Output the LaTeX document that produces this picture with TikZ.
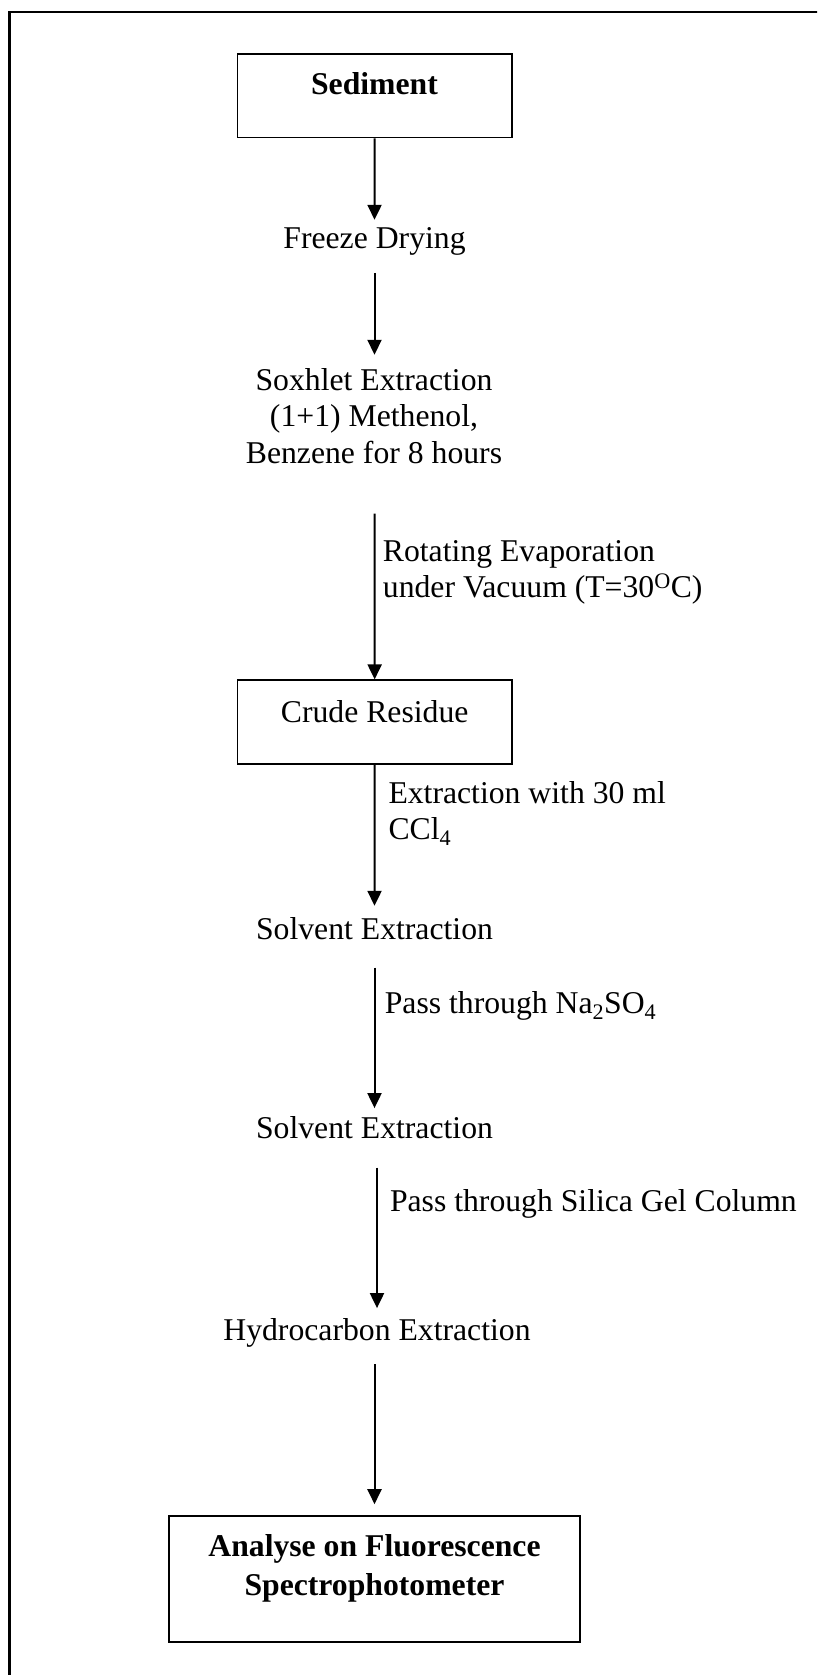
\documentclass[tikz,border=0pt]{standalone}
\usepackage{fontspec}
\setmainfont{Liberation Serif}
\usetikzlibrary{arrows.meta}
\newcommand\bigfont{\fontsize{31.7pt}{36.6pt}\selectfont}
\tikzset{
  frameline/.style={line width=2.5pt},
  boxst/.style={draw, line width=1.2pt, inner sep=0pt},
  finalbox/.style={draw, line width=1.6pt, inner sep=0pt},
  txt/.style={inner sep=0pt, text height=22pt, text depth=7pt, anchor=base, font=\bigfont},
  mtxt/.style={inner sep=0pt, anchor=base, font=\bigfont},
  lbl/.style={inner sep=0pt, anchor=base west, font=\bigfont},
  arr/.style={line width=2pt, -{Triangle[length=15pt,width=14pt]}}
}
\begin{document}
\begin{tikzpicture}[x=1pt,y=1pt]
\useasboundingbox (0,0) rectangle (817,-1675);
\clip (0,0) rectangle (817,-1675);
\draw[frameline] (9.7,-12) rectangle (860,-1720);

% boxes
\node[boxst, minimum width=274.7pt, minimum height=83.7pt] (sed) at (374.65,-95.85) {};
\node[txt, font=\bigfont\bfseries] (sedt) at (374.5,-95) {Sediment};

\node[txt] (fd) at (374.5,-248.3) {Freeze Drying};

\node[mtxt] (sox) at (374,-390) {\begin{tabular}[t]{@{}c@{}}Soxhlet Extraction\\(1+1) Methenol,\\Benzene for 8 hours\end{tabular}};

\node[lbl] (l1) at (382.7,-561) {\begin{tabular}[t]{@{}l@{}}Rotating Evaporation\\under Vacuum (T=30\textsuperscript{O}C)\end{tabular}};

\node[boxst, minimum width=274.7pt, minimum height=84pt] (crude) at (374.65,-722) {};
\node[txt] (crt) at (374.7,-722.3) {Crude Residue};

\node[lbl] (l2) at (388.3,-803.3) {\begin{tabular}[t]{@{}l@{}}Extraction with 30 ml\\CCl\textsubscript{4}\end{tabular}};

\node[txt] (se1) at (374.5,-939.3) {Solvent Extraction};

\node[lbl] (l3) at (384.6,-1013.3) {Pass through Na\textsubscript{2}SO\textsubscript{4}};

\node[txt] (se2) at (374.5,-1138.3) {Solvent Extraction};

\node[lbl] (l4) at (389.8,-1211.7) {Pass through Silica Gel Column};

\node[txt] (hc) at (377,-1340) {Hydrocarbon Extraction};

\node[finalbox, minimum width=411pt, minimum height=126pt] (fin) at (374.5,-1578.7) {};
\node[mtxt, font=\fontsize{31.7pt}{38.3pt}\selectfont\bfseries] (fint) at (374.5,-1556.7) {\begin{tabular}[t]{@{}c@{}}Analyse on Fluorescence\\Spectrophotometer\end{tabular}};

% connectors
\draw[arr, shorten >=6.3pt] (sed.south) -- (fd.north);
\draw[arr, shorten <=17.4pt, shorten >=9.4pt] (fd.south) -- ([xshift=0.5pt]sox.north);
\draw[arr, shorten <=39.3pt] ([xshift=0.5pt]sox.south) -- (crude.north);
\draw[arr, shorten >=11.3pt] (crude.south) -- (se1.north);
\draw[arr, shorten <=21pt, shorten >=8pt] (se1.south) -- (se2.north);
\draw[arr, shorten <=22pt, shorten >=9.7pt] ([xshift=2.5pt]se2.south) -- (hc.north);
\draw[arr, shorten <=17pt, shorten >=10.7pt] ([xshift=-2.5pt]hc.south) -- (fin.north);
\end{tikzpicture}
\end{document}
